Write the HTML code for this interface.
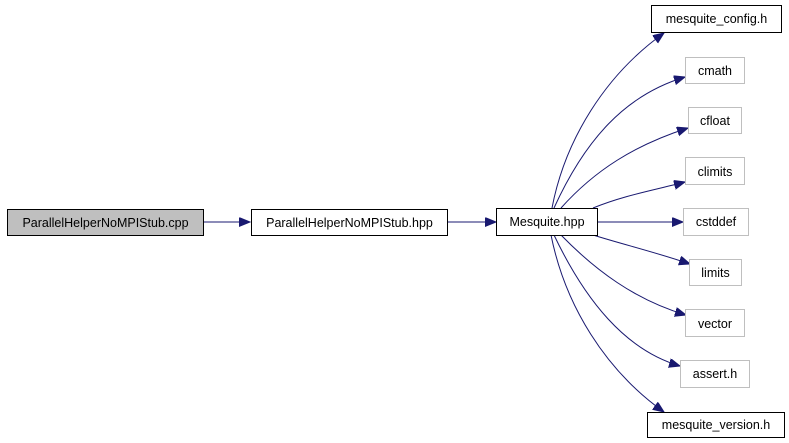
<!DOCTYPE html>
<html><head><meta charset="utf-8"><style>
html,body{margin:0;padding:0;background:#fff;width:789px;height:443px;overflow:hidden}
text{font-family:"Liberation Sans",Helvetica,sans-serif;font-size:12.5px;fill:#000}
</style></head><body>
<svg width="789" height="443" viewBox="0 0 789 443" xmlns="http://www.w3.org/2000/svg">
<defs>
<marker id="a" markerUnits="userSpaceOnUse" markerWidth="12" markerHeight="10" refX="11" refY="4.5" orient="auto">
<polygon points="0,0 11,4.5 0,9" fill="#191970" stroke="#191970"/>
</marker>
</defs>
<g fill="none" stroke="#191970" stroke-width="1">
<path d="M203,222 L250,222" marker-end="url(#a)"/>
<path d="M447,222 L496,222" marker-end="url(#a)"/>
<path d="M597,222 L683,222" marker-end="url(#a)"/>
<path d="M552,208 C565,140 605,75 664,33" marker-end="url(#a)"/>
<path d="M554,208 C585,140 625,95 685,77" marker-end="url(#a)"/>
<path d="M561,208 C595,170 635,145 688,128" marker-end="url(#a)"/>
<path d="M593,208 C625,195 655,190 685,182" marker-end="url(#a)"/>
<path d="M593,235 C625,245 655,252 690,264" marker-end="url(#a)"/>
<path d="M561,235 C595,270 635,300 686,315" marker-end="url(#a)"/>
<path d="M554,235 C585,300 625,350 680,366" marker-end="url(#a)"/>
<path d="M551,235 C565,305 605,370 664,412" marker-end="url(#a)"/>
</g>
<rect x="7.5" y="209.5" width="196" height="26" fill="#bfbfbf" stroke="#000"/>
<text x="105.5" y="227" text-anchor="middle">ParallelHelperNoMPIStub.cpp</text>
<rect x="251.5" y="209.5" width="196" height="26" fill="#fff" stroke="#000"/>
<text x="349.5" y="227" text-anchor="middle">ParallelHelperNoMPIStub.hpp</text>
<rect x="496.5" y="208.5" width="101" height="27" fill="#fff" stroke="#000"/>
<text x="547" y="226" text-anchor="middle">Mesquite.hpp</text>
<rect x="651.5" y="5.5" width="130" height="27" fill="#fff" stroke="#000"/>
<text x="716.5" y="23" text-anchor="middle">mesquite_config.h</text>
<rect x="685.5" y="57.5" width="59" height="26" fill="#fff" stroke="#bfbfbf"/>
<text x="715" y="75" text-anchor="middle">cmath</text>
<rect x="688.5" y="107.5" width="53" height="26" fill="#fff" stroke="#bfbfbf"/>
<text x="715" y="125" text-anchor="middle">cfloat</text>
<rect x="685.5" y="157.5" width="59" height="27" fill="#fff" stroke="#bfbfbf"/>
<text x="715" y="176" text-anchor="middle">climits</text>
<rect x="683.5" y="208.5" width="65" height="27" fill="#fff" stroke="#bfbfbf"/>
<text x="716" y="226" text-anchor="middle">cstddef</text>
<rect x="689.5" y="259.5" width="52" height="26" fill="#fff" stroke="#bfbfbf"/>
<text x="715.5" y="277" text-anchor="middle">limits</text>
<rect x="685.5" y="309.5" width="59" height="27" fill="#fff" stroke="#bfbfbf"/>
<text x="715" y="328" text-anchor="middle">vector</text>
<rect x="680.5" y="360.5" width="69" height="27" fill="#fff" stroke="#bfbfbf"/>
<text x="715" y="378" text-anchor="middle">assert.h</text>
<rect x="647.5" y="412.5" width="137" height="25" fill="#fff" stroke="#000"/>
<text x="716" y="429" text-anchor="middle">mesquite_version.h</text>
</svg>
</body></html>
